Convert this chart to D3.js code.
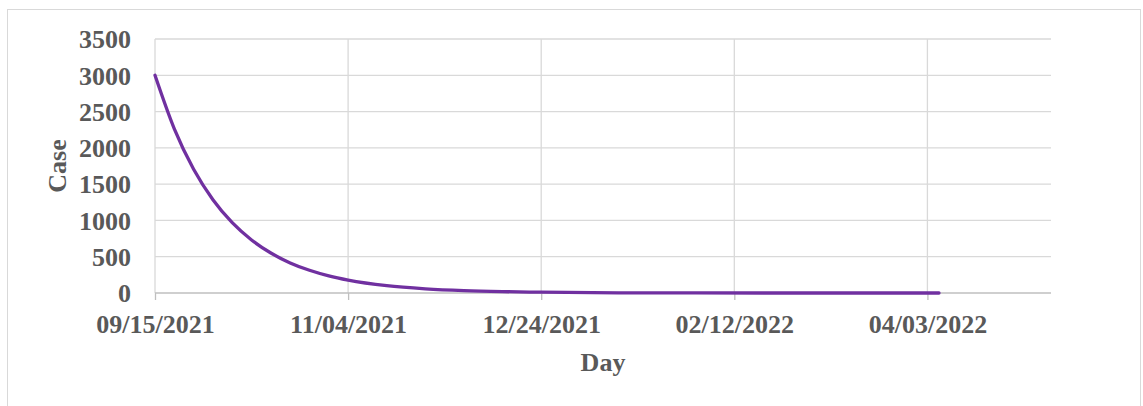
<!DOCTYPE html>
<html>
<head>
<meta charset="utf-8">
<script src="https://cdn.jsdelivr.net/npm/d3@7/dist/d3.min.js"></script>
<style>
  html, body { margin: 0; padding: 0; background: #fff; }
  svg { display: block; }
  text { font-family: "Liberation Serif", "Times New Roman", serif; font-weight: bold; fill: #595959; }
</style>
</head>
<body>
<script>
// ---- data ----
const dates = ["2021-09-15","2021-09-20","2021-09-25","2021-09-30","2021-10-05","2021-10-10",
  "2021-10-15","2021-10-20","2021-10-25","2021-10-30","2021-11-04","2021-11-14","2021-11-24",
  "2021-12-04","2021-12-14","2021-12-24","2022-01-13","2022-02-02","2022-02-22","2022-03-14","2022-04-06"];
const cases = [3000,2262,1705,1286,969,731,551,415,313,236,178,101,58,33,19,11,3,1,0,0,0];
const xTickDates = ["2021-09-15","2021-11-04","2021-12-24","2022-02-12","2022-04-03"];
const xTickLabels = ["09/15/2021","11/04/2021","12/24/2021","02/12/2022","04/03/2022"];
const xDomain = ["2021-09-15","2022-05-05"];
const yTicks = [0,500,1000,1500,2000,2500,3000,3500];
const xTitle = "Day";
const yTitle = "Case";

// ---- drawing ----
const W = 1143, H = 406;
const plot = {left: 155, right: 1051, top: 39, bottom: 293};
const parse = d3.utcParse("%Y-%m-%d");

const svg = d3.select("body").append("svg").attr("width", W).attr("height", H);

svg.append("rect").attr("x", 7.5).attr("y", 9.5).attr("width", 1133).attr("height", 420)
  .attr("fill", "#fff").attr("stroke", "#d9d9d9").attr("stroke-width", 1);

const x = d3.scaleUtc().domain(xDomain.map(parse)).range([plot.left, plot.right]);
const y = d3.scaleLinear().domain([0, 3500]).range([plot.bottom, plot.top]);

// horizontal gridlines
svg.append("g").selectAll("line").data(yTicks.filter(v => v > 0)).join("line")
  .attr("x1", plot.left).attr("x2", plot.right)
  .attr("y1", d => y(d)).attr("y2", d => y(d))
  .attr("stroke", "#d9d9d9").attr("stroke-width", 1.3);

// vertical gridlines
svg.append("g").selectAll("line").data(xTickDates.slice(1).map(parse)).join("line")
  .attr("x1", d => x(d)).attr("x2", d => x(d))
  .attr("y1", plot.top).attr("y2", plot.bottom)
  .attr("stroke", "#d9d9d9").attr("stroke-width", 1.3);

// y axis line
svg.append("line").attr("x1", plot.left).attr("x2", plot.left)
  .attr("y1", plot.top).attr("y2", plot.bottom)
  .attr("stroke", "#d9d9d9").attr("stroke-width", 1.3);

// x axis with ticks
const xAxis = d3.axisBottom(x)
  .tickValues(xTickDates.map(parse))
  .tickSize(7)
  .tickFormat((d, i) => xTickLabels[i]);
const gx = svg.append("g").attr("transform", `translate(0,${plot.bottom})`).call(xAxis);
gx.select(".domain").attr("stroke", "#bfbfbf").attr("stroke-width", 1.3).attr("d", `M${plot.left},0H${plot.right}`);
gx.selectAll(".tick line").attr("stroke", "#bfbfbf").attr("stroke-width", 1.3);
gx.selectAll(".tick text").attr("y", 0).attr("dy", null)
  .attr("transform", "translate(0,39.5)")
  .style("font-size", "26px").style("font-family", "'Liberation Serif', serif")
  .style("font-weight", "bold").attr("fill", "#595959");

// y axis labels
const yAxis = d3.axisLeft(y).tickValues(yTicks).tickSize(0).tickPadding(0).tickFormat(d3.format("d"));
const gy = svg.append("g").attr("transform", `translate(131,0)`).call(yAxis);
gy.select(".domain").remove();
gy.selectAll(".tick text").attr("x", 0).attr("dy", "0.34em")
  .style("font-size", "26px").style("font-family", "'Liberation Serif', serif")
  .style("font-weight", "bold").attr("fill", "#595959");

// line
const line = d3.line()
  .x((d, i) => x(parse(dates[i])))
  .y(d => y(d))
  .curve(d3.curveMonotoneX);
svg.append("path").datum(cases).attr("d", line)
  .attr("fill", "none").attr("stroke", "#7030a0").attr("stroke-width", 3.3)
  .attr("stroke-linecap", "round");

// titles
svg.append("text").attr("x", (plot.left + plot.right) / 2).attr("y", 370.5)
  .attr("text-anchor", "middle").style("font-size", "26px").text(xTitle);
svg.append("text").attr("transform", `translate(66,${(plot.top + plot.bottom) / 2}) rotate(-90)`)
  .attr("text-anchor", "middle").style("font-size", "26px").text(yTitle);
</script>
</body>
</html>
